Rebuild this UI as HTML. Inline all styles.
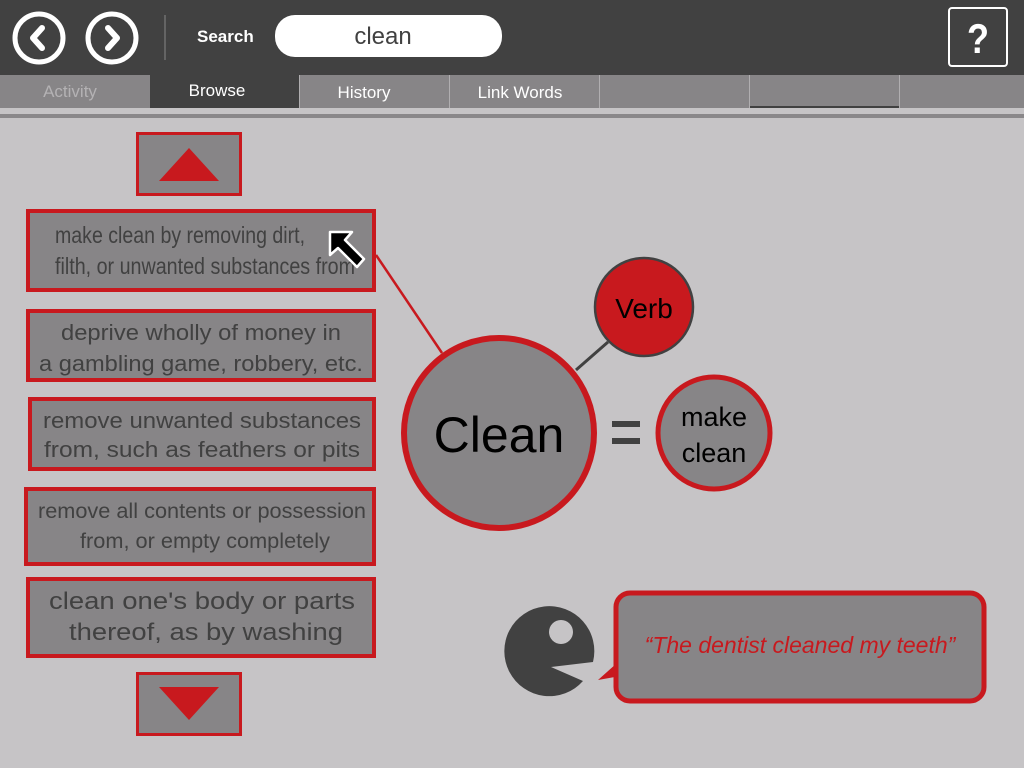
<!DOCTYPE html>
<html><head><meta charset="utf-8"><style>
html,body{margin:0;padding:0;background:#c6c4c6;}
svg{display:block;font-family:"Liberation Sans",sans-serif;}
</style></head><body>
<svg width="1024" height="768" viewBox="0 0 1024 768" xmlns="http://www.w3.org/2000/svg">
<rect width="1024" height="768" fill="#c6c4c6"/>
<!-- header -->
<rect width="1024" height="75" fill="#414141"/>
<circle cx="39" cy="38" r="24" fill="#414141" stroke="#fff" stroke-width="5"/>
<path d="M42 28 L33 38 L42 48" fill="none" stroke="#fff" stroke-width="6" stroke-linecap="round" stroke-linejoin="round"/>
<circle cx="112" cy="38" r="24" fill="#414141" stroke="#fff" stroke-width="5"/>
<path d="M108 28 L117 38 L108 48" fill="none" stroke="#fff" stroke-width="6" stroke-linecap="round" stroke-linejoin="round"/>
<line x1="165" y1="15" x2="165" y2="60" stroke="#888" stroke-width="1"/>
<text x="197" y="42" fill="#fff" font-size="17" font-weight="bold">Search</text>
<rect x="275" y="15" width="227" height="42" rx="20" fill="#fff"/>
<text x="383" y="44" fill="#414141" font-size="24" text-anchor="middle">clean</text>
<rect x="949" y="8" width="58" height="58" rx="3" fill="#414141" stroke="#fff" stroke-width="2"/>
<text x="978" y="53" fill="#fff" font-size="42" font-weight="bold" text-anchor="middle" textLength="22" lengthAdjust="spacingAndGlyphs">?</text>
<!-- tabs -->
<rect x="0" y="75" width="1024" height="33" fill="#878587"/>
<rect x="150" y="75" width="149" height="33" fill="#414141"/>
<g stroke="#b0aeb0" stroke-width="1">
<line x1="299.5" y1="75" x2="299.5" y2="108"/><line x1="449.5" y1="75" x2="449.5" y2="108"/>
<line x1="599.5" y1="75" x2="599.5" y2="108"/><line x1="749.5" y1="75" x2="749.5" y2="108"/>
<line x1="899.5" y1="75" x2="899.5" y2="108"/>
</g>
<line x1="750" y1="107" x2="899" y2="107" stroke="#414141" stroke-width="2"/>
<g font-size="17" text-anchor="middle">
<text x="70" y="97" fill="#b4b2b4">Activity</text>
<text x="217" y="96" fill="#fff">Browse</text>
<text x="364" y="98" fill="#fff">History</text>
<text x="520" y="98" fill="#fff">Link Words</text>
</g>
<rect x="0" y="114" width="1024" height="4" fill="#8a888a"/>
<!-- arrows -->
<rect x="137.5" y="133.5" width="103" height="61" fill="#878587" stroke="#c8191e" stroke-width="3"/>
<polygon points="189,148 219,181 159,181" fill="#c8191e"/>
<rect x="137.5" y="673.5" width="103" height="61" fill="#878587" stroke="#c8191e" stroke-width="3"/>
<polygon points="159,687 219,687 189,720" fill="#c8191e"/>
<!-- connector lines -->
<line x1="376" y1="255" x2="442" y2="353" stroke="#c8191e" stroke-width="2.5"/>
<line x1="576" y1="370" x2="608" y2="342" stroke="#414141" stroke-width="3"/>
<!-- list boxes -->
<g fill="#878587" stroke="#c8191e" stroke-width="4">
<rect x="28" y="211" width="346" height="79"/>
<rect x="28" y="311" width="346" height="69"/>
<rect x="30" y="399" width="344" height="70"/>
<rect x="26" y="489" width="348" height="75"/>
<rect x="28" y="579" width="346" height="77"/>
</g>
<g fill="#414141">
<text x="55" y="243" font-size="23" textLength="250" lengthAdjust="spacingAndGlyphs">make clean by removing dirt,</text>
<text x="55" y="274" font-size="23" textLength="300" lengthAdjust="spacingAndGlyphs">filth, or unwanted substances from</text>
<text x="201" y="340" font-size="22" text-anchor="middle" textLength="280" lengthAdjust="spacingAndGlyphs">deprive wholly of money in</text>
<text x="201" y="371" font-size="22" text-anchor="middle" textLength="324" lengthAdjust="spacingAndGlyphs">a gambling game, robbery, etc.</text>
<text x="202" y="428" font-size="22" text-anchor="middle" textLength="318" lengthAdjust="spacingAndGlyphs">remove unwanted substances</text>
<text x="202" y="457" font-size="22" text-anchor="middle" textLength="316" lengthAdjust="spacingAndGlyphs">from,  such as feathers or pits</text>
<text x="202" y="518" font-size="21" text-anchor="middle" textLength="328" lengthAdjust="spacingAndGlyphs">remove all contents or possession</text>
<text x="205" y="548" font-size="21" text-anchor="middle" textLength="250" lengthAdjust="spacingAndGlyphs">from, or empty completely</text>
<text x="202" y="609" font-size="24" text-anchor="middle" textLength="306" lengthAdjust="spacingAndGlyphs">clean one's body or parts</text>
<text x="206" y="640" font-size="24" text-anchor="middle" textLength="274" lengthAdjust="spacingAndGlyphs">thereof, as by washing</text>
</g>
<!-- cursor -->
<path d="M330 232 L352 232 L345 240 L364 259 L357 267 L338 248 L330 255 Z" fill="#000" stroke="#fff" stroke-width="2.5" stroke-linejoin="round"/>
<!-- circles -->
<circle cx="499" cy="433" r="95" fill="#878587" stroke="#c8191e" stroke-width="6"/>
<text x="499" y="452" font-size="50" text-anchor="middle" fill="#000">Clean</text>
<circle cx="644" cy="307" r="49" fill="#c8191e" stroke="#414141" stroke-width="2.5"/>
<text x="644" y="318" font-size="28" text-anchor="middle" fill="#000">Verb</text>
<rect x="612" y="421" width="28" height="6" fill="#414141"/>
<rect x="612" y="438" width="28" height="6" fill="#414141"/>
<circle cx="714" cy="433" r="56" fill="#878587" stroke="#c8191e" stroke-width="5"/>
<text x="714" y="426" font-size="27" text-anchor="middle" fill="#000">make</text>
<text x="714" y="462" font-size="27" text-anchor="middle" fill="#000">clean</text>
<!-- pacman -->
<path d="M551 667 L593 662 A45 45 0 1 0 583 681 Z" fill="#414141"/>
<circle cx="561" cy="632" r="12" fill="#c6c4c6"/>
<!-- bubble -->
<polygon points="626,655 598,680 626,675" fill="#c8191e"/>
<rect x="616" y="593" width="368" height="108" rx="14" fill="#878587" stroke="#c8191e" stroke-width="5"/>
<text x="800" y="653" font-size="23" font-style="italic" text-anchor="middle" fill="#c8191e">“The dentist cleaned my teeth”</text>
</svg>
</body></html>
